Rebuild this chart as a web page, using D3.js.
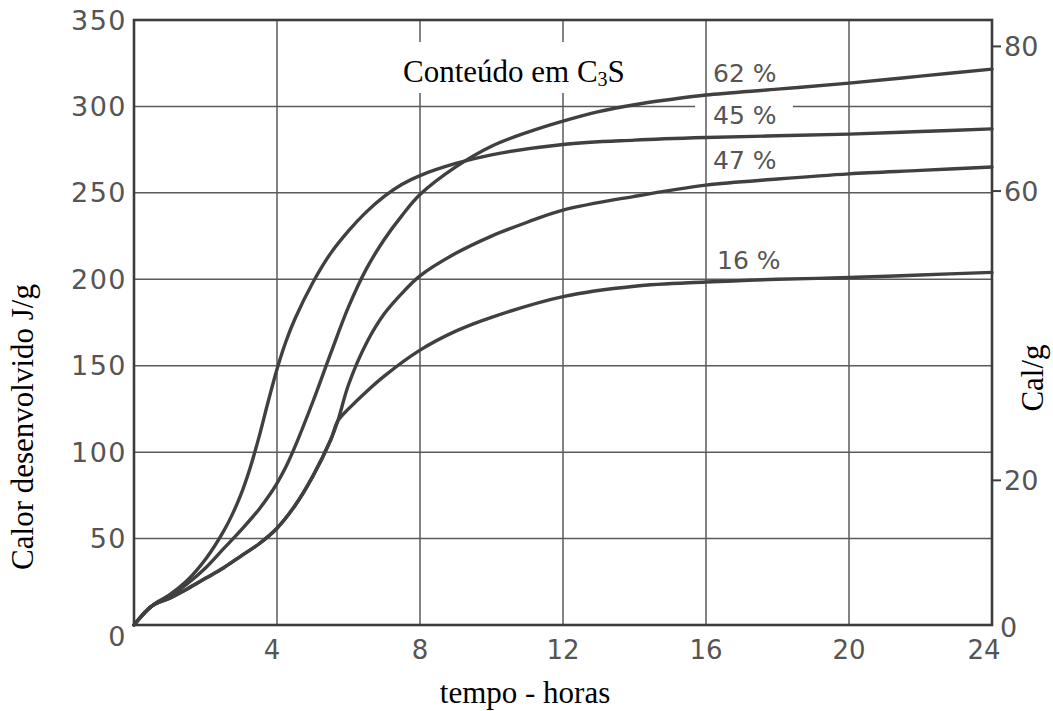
<!DOCTYPE html>
<html>
<head>
<meta charset="utf-8">
<script src="https://cdn.jsdelivr.net/npm/d3@7"></script>
<style>
  body { margin: 0; background: #fff; }
  svg { display: block; }
</style>
</head>
<body>
<svg id="chart" width="1053" height="711"></svg>
<script>
// Heat of hydration (J/g) against time (hours) for cements of different C3S content
const hours62 = [0, 0.5, 1, 1.5, 2, 2.5, 3, 3.5, 3.75, 4, 4.25, 4.5, 5, 5.5, 6, 6.5, 7, 7.5, 8, 9, 10, 11, 12, 13, 14, 15, 16, 18, 20, 22, 24];
const heat62  = [0, 11, 16.5, 24, 33, 44, 55, 67, 74, 82, 91.5, 103, 129, 157, 184, 206, 223, 237, 249, 265, 277, 285, 291.5, 297, 301, 304, 306.6, 310, 313.5, 317.5, 321.6];

const hours45 = [0, 0.5, 1, 1.5, 2, 2.5, 2.75, 3, 3.25, 3.5, 3.75, 4, 4.25, 4.5, 5, 5.5, 6, 6.5, 7, 7.5, 8, 9, 10, 12, 14, 16, 18, 20, 22, 24];
const heat45  = [0, 11, 17.5, 26, 38, 54, 64, 76, 91, 109, 129, 148, 164, 177, 198, 215, 228, 239, 248, 255, 260, 267, 272, 278, 280.5, 282, 283, 284, 285.5, 287];

const hours47 = [0, 0.5, 1, 1.5, 2, 2.5, 3, 3.5, 4, 4.5, 5, 5.5, 5.7, 6, 6.5, 7, 7.5, 8, 9, 10, 11, 12, 14, 16, 18, 20, 22, 24];
const heat47  = [0, 11, 15.5, 21, 27, 33, 40, 47, 56, 69, 86, 107, 118, 139, 163, 180, 192, 202, 215, 225, 233, 240, 248, 254.5, 258, 261, 263, 265];

const hours16 = [0, 0.5, 1, 1.5, 2, 2.5, 3, 3.5, 4, 4.5, 5, 5.5, 5.7, 6, 6.5, 7, 8, 9, 10, 12, 14, 16, 18, 20, 22, 24];
const heat16  = [0, 11, 15.5, 21, 27, 33, 40, 47, 56, 69, 86, 107, 118, 125, 135, 144, 159, 170, 178, 190, 196, 198.4, 200, 201, 202.5, 204];

const seriesLabels = ["62 %", "45 %", "47 %", "16 %"];
const labelAnchors = [314, 290, 264, 206];   // J/g level where each label's baseline sits

const xTicks = [4, 8, 12, 16, 20, 24];
const yTicks = [0, 50, 100, 150, 200, 250, 300, 350];
const calTicks = [0, 20, 60, 80];
const JOULES_PER_CAL = 4.184;

const svg = d3.select("#chart");
const ink = "#3c3c3c";
const grid = "#5a5a5a";
const tickFont = "'DejaVu Sans', sans-serif";
const titleFont = "'Liberation Serif', 'Times New Roman', serif";

const x = d3.scaleLinear().domain([0, 24]).range([134, 992]);
const y = d3.scaleLinear().domain([0, 350]).range([625, 20]);
const yCal = d3.scaleLinear().domain([0, 350 / JOULES_PER_CAL]).range([625, 20]);

// horizontal gridlines
svg.append("g").selectAll("line")
  .data(yTicks.filter(v => v > 0 && v < 350))
  .join("line")
  .attr("x1", x(0)).attr("x2", x(24))
  .attr("y1", d => y(d)).attr("y2", d => y(d))
  .attr("stroke", grid).attr("stroke-width", 1.5);

// break in the 300 line behind the upper labels
svg.append("rect")
  .attr("x", 695).attr("y", y(300) - 4)
  .attr("width", 98).attr("height", 8)
  .attr("fill", "#fff");

// vertical gridlines
svg.append("g").selectAll("line")
  .data(xTicks.filter(v => v < 24))
  .join("line")
  .attr("x1", d => x(d)).attr("x2", d => x(d))
  .attr("y1", y(350)).attr("y2", y(0))
  .attr("stroke", grid).attr("stroke-width", 1.5);

// frame
svg.append("rect")
  .attr("x", x(0)).attr("y", y(350))
  .attr("width", x(24) - x(0)).attr("height", y(0) - y(350))
  .attr("fill", "none").attr("stroke", ink).attr("stroke-width", 2.6);

// caption box over the top of the grid
svg.append("rect")
  .attr("x", 392).attr("y", 42)
  .attr("width", 291).attr("height", 51)
  .attr("fill", "#fff");

const caption = svg.append("text")
  .attr("x", 403).attr("y", 82)
  .attr("font-family", titleFont).attr("font-size", 31)
  .attr("fill", "#000");
caption.append("tspan").text("Conteúdo em C");
caption.append("tspan").attr("font-size", 20).attr("dy", 4).text("3");
caption.append("tspan").attr("dy", -4).text("S");

// curves
const line = d3.line()
  .x(d => x(d[0]))
  .y(d => y(d[1]))
  .curve(d3.curveCatmullRom.alpha(0.5));

const curves = [
  d3.zip(hours62, heat62),
  d3.zip(hours45, heat45),
  d3.zip(hours47, heat47),
  d3.zip(hours16, heat16)
];

svg.append("g").selectAll("path")
  .data(curves)
  .join("path")
  .attr("d", line)
  .attr("fill", "none")
  .attr("stroke", "#404040")
  .attr("stroke-width", 3.4)
  .attr("stroke-linejoin", "round")
  .attr("stroke-linecap", "round");

// curve labels
svg.append("g").selectAll("text")
  .data(seriesLabels)
  .join("text")
  .attr("x", (d, i) => x(16) + (i === 3 ? 11 : 7))
  .attr("y", (d, i) => y(labelAnchors[i]))
  .attr("font-family", tickFont).attr("font-size", 25)
  .attr("fill", "#555")
  .text(d => d);

// left axis labels (J/g)
svg.append("g").selectAll("text")
  .data(yTicks)
  .join("text")
  .attr("x", 127)
  .attr("y", d => y(d) + (d === 0 ? 11 : 0))
  .attr("text-anchor", "end")
  .attr("dominant-baseline", "central")
  .attr("font-family", tickFont).attr("font-size", 27)
  .attr("letter-spacing", 1.5)
  .attr("fill", "#555")
  .text(d => d);

// bottom axis labels (hours)
svg.append("g").selectAll("text")
  .data(xTicks)
  .join("text")
  .attr("x", d => x(d) - (d === 24 ? 8 : d === 4 ? 5 : 0))
  .attr("y", 650)
  .attr("text-anchor", "middle")
  .attr("dominant-baseline", "central")
  .attr("font-family", tickFont).attr("font-size", 26)
  .attr("fill", "#555")
  .text(d => d);

// right axis (cal/g)
const right = svg.append("g");
right.selectAll("line")
  .data(calTicks.filter(v => v > 0))
  .join("line")
  .attr("x1", x(24)).attr("x2", x(24) + 9)
  .attr("y1", d => yCal(d)).attr("y2", d => yCal(d))
  .attr("stroke", ink).attr("stroke-width", 2);
right.selectAll("text")
  .data(calTicks)
  .join("text")
  .attr("x", d => x(24) + (d === 0 ? 8 : 12))
  .attr("y", d => yCal(d) + (d === 0 ? 2 : 0))
  .attr("dominant-baseline", "central")
  .attr("font-family", tickFont).attr("font-size", 27)
  .attr("fill", "#555")
  .text(d => d);

// axis titles
svg.append("text")
  .attr("transform", "translate(33,427) rotate(-90)")
  .attr("text-anchor", "middle")
  .attr("font-family", titleFont).attr("font-size", 31)
  .attr("fill", "#000")
  .text("Calor desenvolvido J/g");

svg.append("text")
  .attr("transform", "translate(1043,378) rotate(-90)")
  .attr("text-anchor", "middle")
  .attr("font-family", titleFont).attr("font-size", 31)
  .attr("fill", "#000")
  .text("Cal/g");

svg.append("text")
  .attr("x", 525).attr("y", 703)
  .attr("text-anchor", "middle")
  .attr("font-family", titleFont).attr("font-size", 31)
  .attr("fill", "#000")
  .text("tempo - horas");
</script>
</body>
</html>
